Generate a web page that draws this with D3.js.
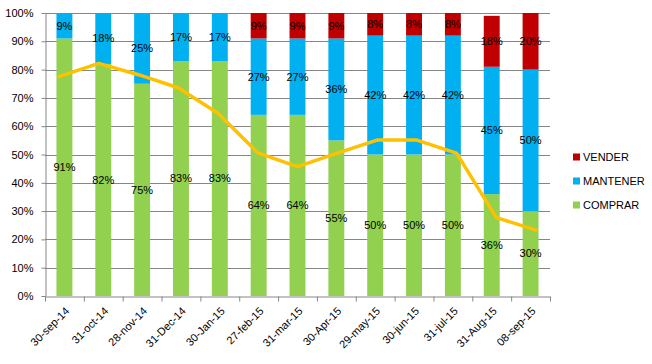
<!DOCTYPE html>
<html>
<head>
<meta charset="utf-8">
<script src="https://cdn.jsdelivr.net/npm/d3@7/dist/d3.min.js"></script>
<style>
  html, body { margin: 0; padding: 0; background: #fff; }
  svg { display: block; font-family: "Liberation Sans", Arial, sans-serif; }
</style>
</head>
<body>
<svg id="chart" width="652" height="364"></svg>
<script>
const categories = ["30-sep-14","31-oct-14","28-nov-14","31-Dec-14","30-Jan-15","27-feb-15","31-mar-15","30-Apr-15","29-may-15","30-jun-15","31-jul-15","31-Aug-15","08-sep-15"];
const comprar  = [91, 82, 75, 83, 83, 64, 64, 55, 50, 50, 50, 36, 30];
const mantener = [ 9, 18, 25, 17, 17, 27, 27, 36, 42, 42, 42, 45, 50];
const vender   = [ 0,  0,  0,  0,  0,  9,  9,  9,  8,  8,  8, 18, 20];
const trend    = [77.5, 82.2, 78.2, 73.6, 64.6, 50.6, 45.7, 50.5, 55.1, 55.1, 50.5, 27.7, 23.3];
const seriesNames = ["VENDER", "MANTENER", "COMPRAR"];
const yTicks = [0, 10, 20, 30, 40, 50, 60, 70, 80, 90, 100];

const colors = { COMPRAR: "#92D050", MANTENER: "#00B0F0", VENDER: "#C00000" };

const svg = d3.select("#chart");
const mLeft = 45, mRight = 550, mTop = 13, mBottom = 296;

const x = d3.scaleBand().domain(categories).range([mLeft, mRight]).paddingInner(0.59).paddingOuter(0.295);
const xEdge = d3.scaleLinear().domain([0, categories.length]).range([mLeft, mRight]);
const xLine = d3.scalePoint().domain(categories).range([mLeft, mRight]).padding(0.35);
const y = d3.scaleLinear().domain([0, 100]).range([mBottom, mTop]);

// gridlines
svg.append("g")
  .selectAll("line").data(yTicks.slice(1)).join("line")
  .attr("x1", mLeft).attr("x2", mRight)
  .attr("y1", d => Math.round(y(d)) + 0.5).attr("y2", d => Math.round(y(d)) + 0.5)
  .attr("stroke", "#868686").attr("stroke-width", 1);

// stacked data
const rows = categories.map((c, i) => ({ cat: c, COMPRAR: comprar[i], MANTENER: mantener[i], VENDER: vender[i] }));
const stacked = d3.stack().keys(["COMPRAR", "MANTENER", "VENDER"])(rows);

svg.append("g").selectAll("g").data(stacked).join("g")
  .attr("fill", d => colors[d.key])
  .selectAll("rect").data(d => d).join("rect")
  .attr("x", d => x(d.data.cat))
  .attr("width", x.bandwidth())
  .attr("y", d => y(d[1]))
  .attr("height", d => y(d[0]) - y(d[1]));

// y axis
const yAxis = svg.append("g")
  .attr("transform", `translate(${mLeft + 0.5},0)`)
  .call(d3.axisLeft(y).tickValues(yTicks).tickFormat(d => d + "%").tickSize(4).tickPadding(8).tickSizeOuter(0));
yAxis.selectAll("line, path").attr("stroke", "#868686");
yAxis.selectAll("text").attr("font-size", 11).attr("fill", "#000").attr("font-family", "Liberation Sans, Arial, sans-serif");

// x axis ticks at category boundaries
const xTickAxis = svg.append("g")
  .attr("transform", `translate(0,${mBottom + 0.5})`)
  .call(d3.axisBottom(xEdge).tickValues(d3.range(categories.length + 1)).tickFormat("").tickSize(5).tickSizeOuter(0));
xTickAxis.selectAll("line, path").attr("stroke", "#868686");

// x labels
svg.append("g").selectAll("text").data(categories).join("text")
  .attr("transform", d => `translate(${x(d) + x.bandwidth() / 2 + 3},${mBottom + 13}) rotate(-45)`)
  .attr("text-anchor", "end")
  .attr("dy", "0.35em")
  .attr("font-size", 11)
  .attr("fill", "#000")
  .text(d => d);

// trend line
svg.append("path")
  .datum(trend)
  .attr("fill", "none")
  .attr("stroke", "#FFC000")
  .attr("stroke-width", 3.5)
  .attr("stroke-linejoin", "round")
  .attr("stroke-linecap", "round")
  .attr("d", d3.line().x((d, i) => xLine(categories[i])).y(d => y(d)));

// data labels
const labelData = [];
stacked.forEach(s => s.forEach(d => {
  const v = d[1] - d[0];
  if (v > 0) labelData.push({ cat: d.data.cat, v: v, mid: (d[0] + d[1]) / 2 });
}));
svg.append("g").selectAll("text").data(labelData).join("text")
  .attr("x", d => x(d.cat) + x.bandwidth() / 2)
  .attr("y", d => y(d.mid))
  .attr("dy", "0.35em")
  .attr("text-anchor", "middle")
  .attr("font-size", 11)
  .attr("fill", "#000")
  .text(d => d.v + "%");

// legend
const legend = svg.append("g").selectAll("g").data(seriesNames).join("g")
  .attr("transform", (d, i) => `translate(573,${157 + i * 24})`);
legend.append("rect")
  .attr("x", 0).attr("y", -3.5).attr("width", 7).attr("height", 7)
  .attr("fill", d => colors[d]);
legend.append("text")
  .attr("x", 10).attr("y", 0).attr("dy", "0.35em")
  .attr("font-size", 11).attr("fill", "#000")
  .text(d => d);
</script>
</body>
</html>
